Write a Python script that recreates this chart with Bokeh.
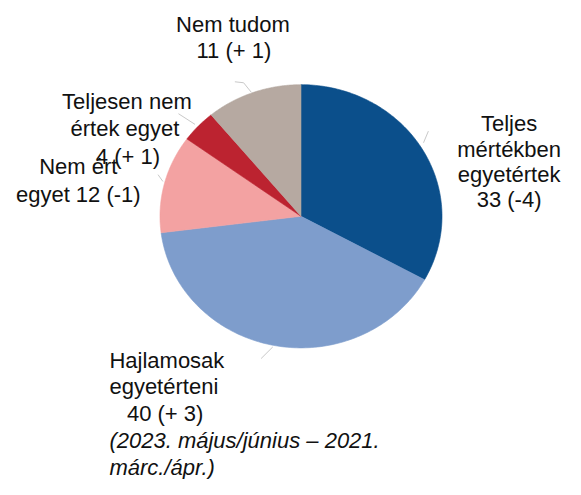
import numpy as np
from bokeh.plotting import figure
from bokeh.models import Range1d
from bokeh.embed import file_html
from bokeh.resources import INLINE
from bokeh.core.properties import value

# ---- data ----
categories = ["Teljes mértékben egyetértek", "Hajlamosak egyetérteni",
              "Nem ért egyet", "Teljesen nem értek egyet", "Nem tudom"]
shares = [33, 40, 12, 4, 11]
changes = ["-4", "+ 3", "-1", "+ 1", "+ 1"]
colors = ["#0B4F8B", "#7E9DCC", "#F3A2A2", "#BC2330", "#B6A9A1"]
subtitle = ["(2023. május/június – 2021.", "márc./ápr.)"]

# ---- layout (reference-pixel positions scaled to the plot) ----
W, H = 565, 479
SX, SY = W / 581.0, H / 495.0
CX, CY, RX, RY = 309 * SX, 223 * SY, 145 * SX, 136 * SY


def px(x, y):
    """reference pixel -> data coordinate"""
    return (x * SX - CX) / RX, (CY - y * SY) / RY


p = figure(width=W, height=H, output_backend="svg", toolbar_location=None,
           x_range=Range1d((0 - CX) / RX, (W - CX) / RX),
           y_range=Range1d((CY - H) / RY, CY / RY),
           min_border=0)
p.axis.visible = False
p.grid.visible = False
p.outline_line_color = None
p.background_fill_color = "white"
p.border_fill_color = "white"

# ---- slices (unit circle in data, stretched by the scales) ----
total = float(sum(shares))
bounds = np.concatenate([[0], np.cumsum(shares)]) / total
xs, ys = [], []
for i in range(len(shares)):
    a0 = np.pi / 2 - 2 * np.pi * bounds[i]
    a1 = np.pi / 2 - 2 * np.pi * bounds[i + 1]
    t = np.linspace(a0, a1, 120)
    xs.append([0.0] + list(np.cos(t)) + [0.0])
    ys.append([0.0] + list(np.sin(t)) + [0.0])
p.patches(xs, ys, fill_color=colors, line_color=colors, line_width=0.6)

# ---- leader lines ----
leaders_px = [
    [(435, 147), (440, 135)],
    [(268, 370), (280, 358)],
    [(162, 180), (167, 187)],
    [(183, 117), (200, 128)],
    [(241, 84), (250, 85), (258, 95)],
]
lx = [[px(a, b)[0] for a, b in seg] for seg in leaders_px]
ly = [[px(a, b)[1] for a, b in seg] for seg in leaders_px]
p.multi_line(lx, ly, line_color="#c9c9c9", line_width=1)

FONT = value("Liberation Sans")
FS = "22px"


def line(x, y, txt, align="center", style="normal"):
    X, Y = px(x, y)
    p.text([X], [Y], text=[txt], text_font=FONT, text_font_size=FS,
           text_align=align, text_baseline="middle", text_color="#111111",
           text_font_style=style)


# Teljes mértékben egyetértek
line(523, 127, "Teljes")
line(523, 154, "mértékben")
line(523, 180, "egyetértek")
line(523, 206, "%d (%s)" % (shares[0], changes[0]))
# Hajlamosak egyetérteni
line(112, 372, "Hajlamosak", align="left")
line(112, 399, "egyetérteni", align="left")
line(130, 427, "%d (%s)" % (shares[1], changes[1]), align="left")
line(112, 455, subtitle[0], align="left", style="italic")
line(112, 483, subtitle[1], align="left", style="italic")
# Nem ért egyet
line(80, 172, "Nem ért")
line(80, 200, "egyet %d (%s)" % (shares[2], changes[2]))
# Teljesen nem értek egyet
line(130, 104, "Teljesen nem")
line(128, 132, "értek egyet")
line(131, 161, "%d (%s)" % (shares[3], changes[3]))
# Nem tudom
line(239, 25, "Nem tudom")
line(240, 52, "%d (%s)" % (shares[4], changes[4]))

open("out.html", "w").write(file_html(p, INLINE))
